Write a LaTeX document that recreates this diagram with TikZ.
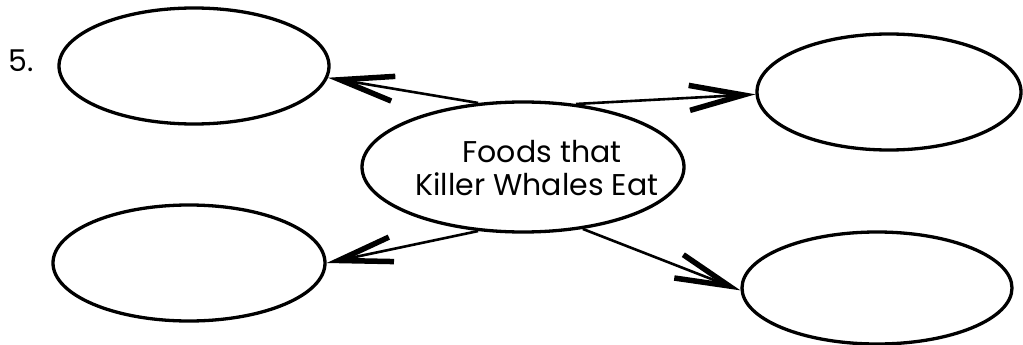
\documentclass[tikz,border=0pt]{standalone}
\usepackage{fontspec}
\newfontfamily\gothic{Poppins}
\usetikzlibrary{shapes.geometric,arrows.meta}
\begin{document}
\begin{tikzpicture}[x=1pt,y=-1pt,
  bubble/.style={ellipse,draw,line width=3.3pt,inner sep=0pt},
  link/.style={line width=2.6pt,-{Straight Barb[length=54pt,width=25pt,line width=5.5pt]}},
  txt/.style={font=\gothic\fontsize{30}{33}\selectfont,inner sep=0pt}]
\useasboundingbox (0,0) rectangle (1023,345);
\node[bubble,minimum width=270pt,minimum height=116pt] (tl) at (194,66) {};
\node[bubble,minimum width=264pt,minimum height=116pt] (tr) at (889,92) {};
\node[bubble,minimum width=322pt,minimum height=130pt] (c) at (523,167) {};
\node[bubble,minimum width=272pt,minimum height=116pt] (bl) at (189,263) {};
\node[bubble,minimum width=270pt,minimum height=112pt] (br) at (877,288) {};
\node[txt,anchor=base] (t1) at (542,162) {Foods that};
\node[txt,anchor=base] (t2) at (537,195) {Killer Whales Eat};
\node[txt,anchor=base west] (num) at (8,72) {5.};
\draw[link] (c.125) -- (tl.-5);
\draw[link] (c.50) -- (tr.181);
\draw[link] (c.235) -- (bl.0);
\draw[link] (c.-46) -- (br.181);
\end{tikzpicture}
\end{document}
